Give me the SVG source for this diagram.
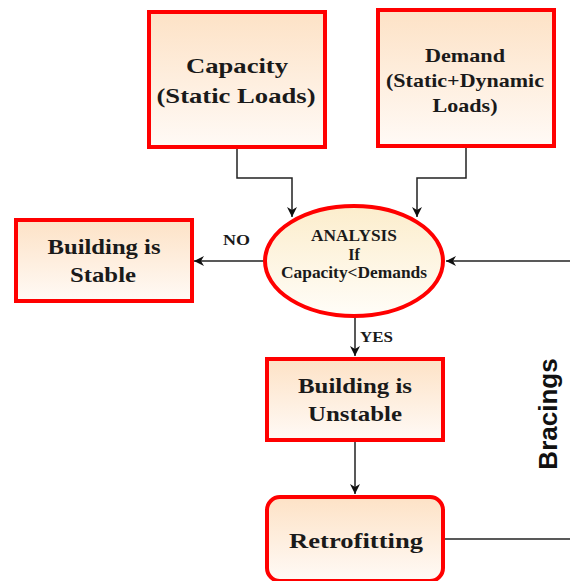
<svg xmlns="http://www.w3.org/2000/svg" width="570" height="581" viewBox="0 0 570 581">
<defs>
<linearGradient id="boxg" x1="0" y1="0" x2="0" y2="1">
<stop offset="0" stop-color="#fde2c6"/>
<stop offset="1" stop-color="#fffaf6"/>
</linearGradient>
<linearGradient id="ellg" x1="0" y1="0" x2="0" y2="1">
<stop offset="0" stop-color="#fcedcc"/>
<stop offset="1" stop-color="#fffdf8"/>
</linearGradient>
<marker id="arr" viewBox="0 0 10 10" refX="10" refY="5" markerWidth="10" markerHeight="10" markerUnits="userSpaceOnUse" orient="auto">
<path d="M0,0 L10,5 L0,10 L3,5 Z" fill="#111"/>
</marker>
<style>
.box{fill:url(#boxg);stroke:#ff0000;stroke-width:4}
.ell{fill:url(#ellg);stroke:#ff0000;stroke-width:4}
.t{font-family:"Liberation Serif","Times New Roman",serif;font-weight:bold;fill:#1a1a1a;text-anchor:middle}
.lbl{font-family:"Liberation Serif","Times New Roman",serif;font-weight:bold;fill:#1a1a1a;font-size:14px}
.c{fill:none;stroke:#222;stroke-width:1.5}
</style>
</defs>
<g id="connectors">
<path class="c" d="M237,148 V178 H292 V217" marker-end="url(#arr)"/>
<path class="c" d="M466,147 V178 H417 V217" marker-end="url(#arr)"/>
<path class="c" d="M570,261 H446" marker-end="url(#arr)"/>
<path class="c" d="M264,261 H194" marker-end="url(#arr)"/>
<path class="c" d="M355,317 V356" marker-end="url(#arr)"/>
<path class="c" d="M355,441 V494" marker-end="url(#arr)"/>
<path class="c" d="M445,539 H570"/>
<text class="lbl" x="223" y="245" textLength="27" lengthAdjust="spacingAndGlyphs">NO</text>
<text class="lbl" x="360" y="342" textLength="33" lengthAdjust="spacingAndGlyphs">YES</text>
</g>
<g id="capacity">
<rect class="box" x="149" y="12" width="176" height="135"/>
<text class="t" x="237" y="73" font-size="22" textLength="102" lengthAdjust="spacingAndGlyphs">Capacity</text>
<text class="t" x="236" y="103" font-size="22" textLength="159" lengthAdjust="spacingAndGlyphs">(Static Loads)</text>
</g>
<g id="demand">
<rect class="box" x="378" y="10" width="176" height="136"/>
<text class="t" x="465" y="62" font-size="19" textLength="80" lengthAdjust="spacingAndGlyphs">Demand</text>
<text class="t" x="465" y="87" font-size="19" textLength="158" lengthAdjust="spacingAndGlyphs">(Static+Dynamic</text>
<text class="t" x="465" y="112" font-size="19" textLength="65" lengthAdjust="spacingAndGlyphs">Loads)</text>
</g>
<g id="analysis">
<ellipse class="ell" cx="354" cy="261" rx="89" ry="55"/>
<text class="t" x="354" y="241" font-size="16" textLength="86" lengthAdjust="spacingAndGlyphs">ANALYSIS</text>
<text class="t" x="354" y="260" font-size="16">If</text>
<text class="t" x="354" y="278" font-size="16" textLength="146" lengthAdjust="spacingAndGlyphs">Capacity&lt;Demands</text>
</g>
<g id="stable">
<rect class="box" x="16" y="220" width="176" height="81"/>
<text class="t" x="104" y="254" font-size="21" textLength="113" lengthAdjust="spacingAndGlyphs">Building is</text>
<text class="t" x="103" y="282" font-size="21" textLength="66" lengthAdjust="spacingAndGlyphs">Stable</text>
</g>
<g id="unstable">
<rect class="box" x="267" y="359" width="176" height="81"/>
<text class="t" x="355" y="393" font-size="21" textLength="114" lengthAdjust="spacingAndGlyphs">Building is</text>
<text class="t" x="355" y="421" font-size="21" textLength="94" lengthAdjust="spacingAndGlyphs">Unstable</text>
</g>
<g id="retrofitting">
<rect class="box" x="267" y="497" width="176" height="84" rx="13" ry="13"/>
<text class="t" x="356" y="548" font-size="22" textLength="134" lengthAdjust="spacingAndGlyphs">Retrofitting</text>
</g>
<g id="bracings">
<text x="557" y="414" transform="rotate(-90 557 414)" font-family="'Liberation Sans',Arial,sans-serif" font-weight="bold" font-size="26" fill="#111" text-anchor="middle">Bracings</text>
</g>
</svg>
